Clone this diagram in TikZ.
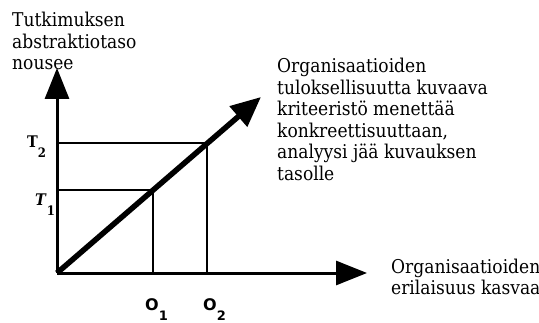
\documentclass[tikz,border=0pt]{standalone}
\usepackage{fontspec}
\setmainfont{DejaVu Serif Condensed}
\newfontfamily\ticksans{DejaVu Sans}
\usetikzlibrary{arrows.meta, positioning}
% subscripted axis labels
\newcommand{\axsub}[2]{#1\raisebox{-10pt}{\fontsize{13}{13}\selectfont #2}}

\begin{document}
\begin{tikzpicture}[
  x=1pt, y=1pt,
  node distance=24pt,
  axis/.style={line width=3pt, -{Triangle[length=31pt, width=24pt]}},
  trend/.style={line width=5.5pt, -{Triangle[length=30pt, width=26pt]}},
  guide/.style={line width=1.8pt},
  lbl/.style={font=\fontsize{19}{21.5}\selectfont, align=left, inner sep=0pt},
  tick/.style={font=\bfseries\fontsize{16}{18}\selectfont, inner sep=0pt},
]
\useasboundingbox (0,0) rectangle (539,322);

% axes and trend
\coordinate (orig) at (57,49);
\coordinate (ytop) at (57,254);
\coordinate (xend) at (367,49);
\coordinate (tip)  at (261,225);
\coordinate (p1)   at (153,132);
\coordinate (p2)   at (207,179);

\draw[guide] (orig |- p1) -- (p1) -- (p1 |- orig);
\draw[guide] (orig |- p2) -- (p2) -- (p2 |- orig);
\draw[axis] (orig) -- (ytop);
\draw[axis] (orig) -- (xend);
\draw[trend] (orig) -- (tip);

% labels
\node[lbl, anchor=north west] (ylab) at (12,310) {Tutkimuksen\\abstraktiotaso\\nousee};
\node[lbl, anchor=north west] (dlab) at (277,264) {Organisaatioiden\\tuloksellisuutta kuvaava\\kriteeristö menettää\\konkreettisuuttaan,\\analyysi jää kuvauksen\\tasolle};
\node[lbl, right=of xend, yshift=-4pt] (xlab) {Organisaatioiden\\erilaisuus kasvaa};

\node[tick, anchor=base west] (t2) at (27,175) {\axsub{T}{2}};
\node[tick, anchor=base west] (t1) at (35,117) {\axsub{\textit{T}}{1}};
\node[tick, anchor=base west, font=\ticksans\bfseries\fontsize{16}{18}\selectfont] (o1) at ([xshift=-8pt]p1 |- 0,12) {\axsub{O}{1}};
\node[tick, anchor=base west, font=\ticksans\bfseries\fontsize{16}{18}\selectfont] (o2) at ([xshift=-4pt]p2 |- 0,12) {\axsub{O}{2}};
\end{tikzpicture}
\end{document}
